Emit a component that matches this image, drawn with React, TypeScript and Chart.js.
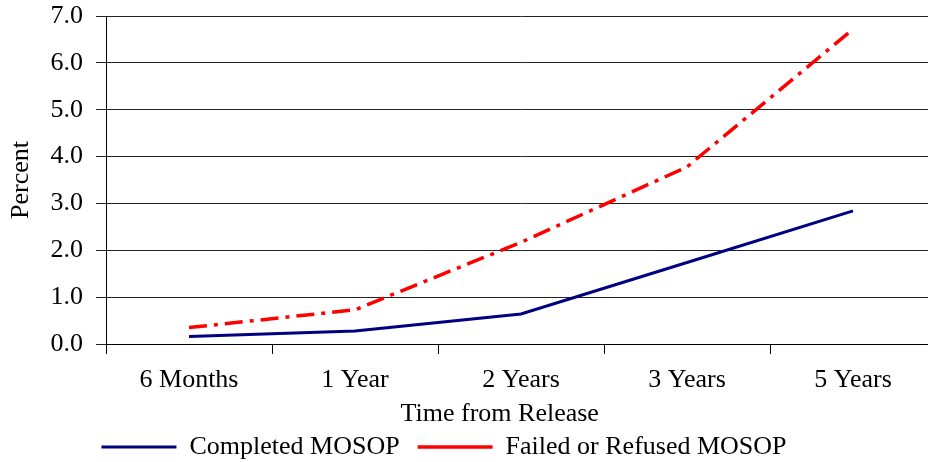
import React, { useEffect, useRef } from "react";
import { Chart, registerables } from "chart.js";

Chart.register(...registerables);

const categories = ["6 Months", "1 Year", "2 Years", "3 Years", "5 Years"];
const completedMOSOP = [0.16, 0.28, 0.64, 1.74, 2.84];
const failedMOSOP = [0.35, 0.73, 2.17, 3.78, 6.72];
const seriesNames = ["Completed MOSOP", "Failed or Refused MOSOP"];
const yTitle = "Percent";
const xTitle = "Time from Release";

const FONT = "'Liberation Serif', 'Times New Roman', serif";

const legendMover = {
  id: "legendMover",
  afterLayout(chart: any) {
    const lg = chart.legend;
    if (!lg) return;
    const dx = -24;
    lg.left += dx;
    lg.right += dx;
    const h = lg.bottom - lg.top;
    lg.top = 416;
    lg.bottom = 416 + h;
  },
};

const xTitlePlugin = {
  id: "xTitlePlugin",
  afterDraw(chart: any) {
    const ctx = chart.ctx;
    const xs = chart.scales.x;
    ctx.save();
    ctx.font = `26px ${FONT}`;
    ctx.fillStyle = "#000";
    ctx.textAlign = "center";
    ctx.textBaseline = "middle";
    // centred on the whole picture area rather than the plot
    ctx.fillText(xTitle, xs.left - 3 + (xs.right - xs.left) * 0.478, xs.top + 70);
    ctx.restore();
  },
};

export default function App() {
  const ref = useRef<HTMLCanvasElement>(null);
  useEffect(() => {
    if (!ref.current) return;
    const chart = new Chart(ref.current, {
      type: "line",
      data: {
        labels: categories,
        datasets: [
          {
            label: seriesNames[0],
            data: completedMOSOP,
            borderColor: "#000080",
            backgroundColor: "#000080",
            borderWidth: 3,
            pointRadius: 0,
            tension: 0,
          },
          {
            label: seriesNames[1],
            data: failedMOSOP,
            borderColor: "#FF0000",
            backgroundColor: "#FF0000",
            borderWidth: 3.5,
            borderDash: [18, 7, 4, 7],
            pointRadius: 0,
            tension: 0,
          },
        ],
      },
      plugins: [legendMover, xTitlePlugin],
      options: {
        responsive: false,
        animation: false,
        layout: { padding: { left: 0, right: 1, top: 16, bottom: 0 } },
        font: { family: FONT, size: 26 },
        plugins: {
          tooltip: { enabled: false },
          legend: {
            position: "bottom",
            labels: {
              usePointStyle: true,
              pointStyle: "line",
              pointStyleWidth: 75,
              color: "#000",
              font: { family: FONT, size: 26 },
              padding: 18,
            },
          },
        },
        scales: {
          x: {
            offset: true,
            afterFit: (s: any) => {
              s.height = 64;
            },
            grid: {
              offset: true,
              drawOnChartArea: false,
              drawTicks: true,
              tickLength: 10,
              color: "#000",
              tickColor: "#000",
            },
            border: { display: true, color: "#000", width: 1 },
            ticks: {
              color: "#000",
              font: { family: FONT, size: 26 },
              padding: 11,
              maxRotation: 0,
            },
            title: { display: false, text: xTitle },
          },
          y: {
            min: 0,
            max: 7,
            afterFit: (s: any) => {
              s.width = 106;
              s.paddingTop = 0;
              s.paddingBottom = 0;
            },
            grid: {
              color: "#222",
              tickColor: "#222",
              tickLength: 10,
              drawTicks: true,
            },
            border: { display: true, color: "#000", width: 1 },
            ticks: {
              stepSize: 1,
              color: "#000",
              font: { family: FONT, size: 26 },
              padding: 13,
              callback: (v: any) => Number(v).toFixed(1),
            },
            title: {
              display: true,
              text: yTitle,
              color: "#000",
              font: { family: FONT, size: 26 },
              padding: { top: 6, bottom: 0 },
            },
          },
        },
      },
    });
    return () => chart.destroy();
  }, []);
  return (
    <div style={{ position: "absolute", left: 0, top: 0, width: 928, height: 462, overflow: "hidden", background: "#fff" }}>
      <canvas ref={ref} width={937} height={462} style={{ display: "block" }} />
    </div>
  );
}
